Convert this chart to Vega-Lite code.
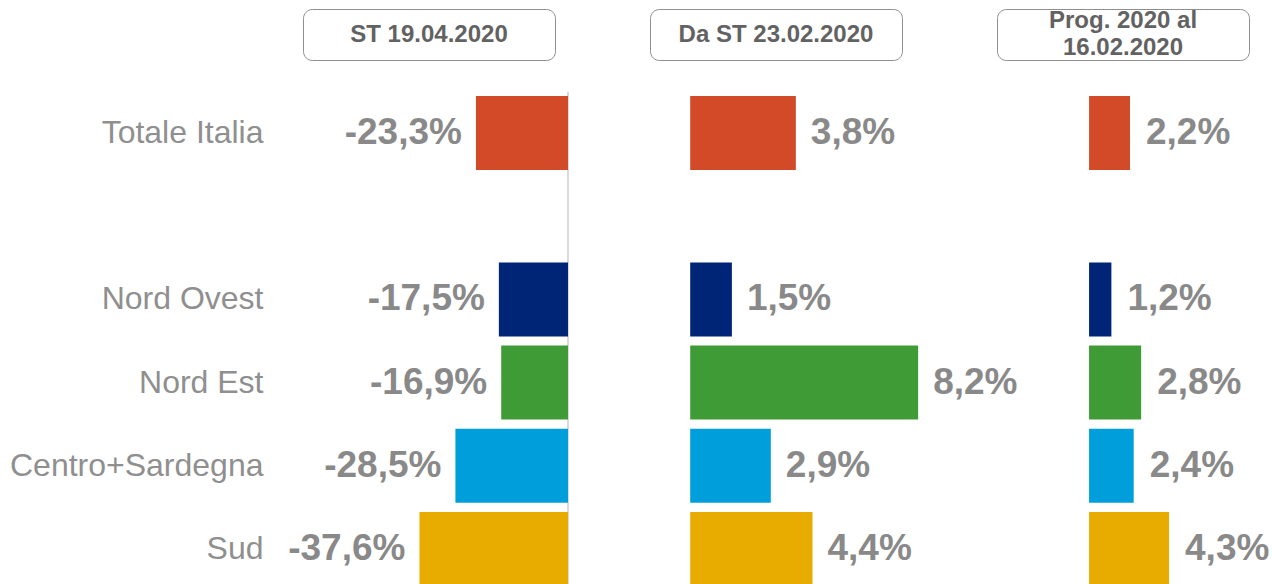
{
  "$schema": "https://vega.github.io/schema/vega-lite/v6.json",
  "padding": {"left": 9, "top": 8, "right": 0, "bottom": 0},
  "autosize": {"type": "pad"},
  "background": "white",
  "config": {
    "view": {"stroke": null},
    "font": "Liberation Sans",
    "locale": {"number": {"decimal": ",", "thousands": ".", "grouping": [3], "currency": ["€", ""], "minus": "-", "percent": "%"}}
  },
  "datasets": {
    "d": [
      {"regione": "Totale Italia", "st": -0.233, "da": 0.038, "prog": 0.022},
      {"regione": "Nord Ovest", "st": -0.175, "da": 0.015, "prog": 0.012},
      {"regione": "Nord Est", "st": -0.169, "da": 0.082, "prog": 0.028},
      {"regione": "Centro+Sardegna", "st": -0.285, "da": 0.029, "prog": 0.024},
      {"regione": "Sud", "st": -0.376, "da": 0.044, "prog": 0.043}
    ],
    "h1": [{"t": "ST 19.04.2020"}],
    "h2": [{"t": "Da ST 23.02.2020"}],
    "h3": [{"t": ["Prog. 2020 al", "16.02.2020"]}]
  },
  "spacing": 30,
  "vconcat": [
    {
      "spacing": 0,
      "hconcat": [
        {"width": 22, "height": 51, "data": {"name": "h1"}, "mark": {"type": "text", "text": ""}, "encoding": {}},
        {"width": 252, "height": 51, "view": {"stroke": "#8f8f8f", "strokeWidth": 1, "cornerRadius": 9},
         "data": {"name": "h1"}, "mark": {"type": "text", "fontSize": 24, "fontWeight": "bold", "color": "#626262"},
         "encoding": {"text": {"field": "t"}}},
        {"width": 93, "height": 51, "data": {"name": "h1"}, "mark": {"type": "text", "text": ""}, "encoding": {}},
        {"width": 252, "height": 51, "view": {"stroke": "#8f8f8f", "strokeWidth": 1, "cornerRadius": 9},
         "data": {"name": "h2"}, "mark": {"type": "text", "fontSize": 24, "fontWeight": "bold", "color": "#626262"},
         "encoding": {"text": {"field": "t"}}},
        {"width": 93, "height": 51, "data": {"name": "h1"}, "mark": {"type": "text", "text": ""}, "encoding": {}},
        {"width": 252, "height": 51, "view": {"stroke": "#8f8f8f", "strokeWidth": 1, "cornerRadius": 9},
         "data": {"name": "h3"}, "mark": {"type": "text", "fontSize": 24, "fontWeight": "bold", "color": "#626262", "lineHeight": 27, "dy": -14},
         "encoding": {"text": {"field": "t"}}}
      ]
    },
    {
      "spacing": 0,
      "hconcat": [
        {
          "width": 288, "height": 494,
          "data": {"name": "d"},
          "encoding": {
            "y": {"field": "regione", "type": "nominal",
                  "scale": {"domain": ["Totale Italia", " ", "Nord Ovest", "Nord Est", "Centro+Sardegna", "Sud"], "paddingInner": 0.11, "paddingOuter": 0.024, "align": 1},
                  "axis": {"title": null, "ticks": false, "domain": false, "labelFontSize": 32, "labelColor": "#8f8f8f", "labelPadding": 17, "labelLimit": 400, "labelFont": "Liberation Sans"}}
          },
          "layer": [
            {"mark": {"type": "rule", "color": "#d9d9d9", "strokeWidth": 1.5}, "encoding": {"x": {"datum": 0, "type": "quantitative", "scale": {"domain": [-0.729, 0], "nice": false}, "axis": null}, "y": null}},
            {"mark": {"type": "bar"},
             "encoding": {
               "x": {"field": "st", "type": "quantitative", "scale": {"domain": [-0.729, 0], "nice": false}, "axis": null},
               "color": {"field": "regione", "type": "nominal", "legend": null,
                         "scale": {"domain": ["Totale Italia", "Nord Ovest", "Nord Est", "Centro+Sardegna", "Sud"], "range": ["#D24A27", "#002576", "#3F9B35", "#009FDB", "#E8AB00"]}}
             }},
            {"mark": {"type": "text", "align": "right", "baseline": "middle", "dx": -14, "fontSize": 37, "fontWeight": "bold", "color": "#898989"},
             "encoding": {
               "x": {"field": "st", "type": "quantitative", "scale": {"domain": [-0.729, 0], "nice": false}, "axis": null},
               "text": {"field": "st", "type": "quantitative", "format": ".1%"}
             }}
          ]
        },
        {
          "width": 452, "height": 494,
          "data": {"name": "d"},
          "encoding": {
            "y": {"field": "regione", "type": "nominal",
                  "scale": {"domain": ["Totale Italia", " ", "Nord Ovest", "Nord Est", "Centro+Sardegna", "Sud"], "paddingInner": 0.11, "paddingOuter": 0.024, "align": 1},
                  "axis": null},
            "x": {"field": "da", "type": "quantitative", "scale": {"domain": [-0.0436, 0.119], "nice": false}, "axis": null}
          },
          "layer": [
            {"mark": {"type": "bar"},
             "encoding": {
               "color": {"field": "regione", "type": "nominal", "legend": null,
                         "scale": {"domain": ["Totale Italia", "Nord Ovest", "Nord Est", "Centro+Sardegna", "Sud"], "range": ["#D24A27", "#002576", "#3F9B35", "#009FDB", "#E8AB00"]}}
             }},
            {"mark": {"type": "text", "align": "left", "baseline": "middle", "dx": 15, "fontSize": 37, "fontWeight": "bold", "color": "#898989"},
             "encoding": {"text": {"field": "da", "type": "quantitative", "format": ".1%"}}}
          ]
        },
        {
          "width": 252, "height": 494,
          "data": {"name": "d"},
          "encoding": {
            "y": {"field": "regione", "type": "nominal",
                  "scale": {"domain": ["Totale Italia", " ", "Nord Ovest", "Nord Est", "Centro+Sardegna", "Sud"], "paddingInner": 0.11, "paddingOuter": 0.024, "align": 1},
                  "axis": null},
            "x": {"field": "prog", "type": "quantitative", "scale": {"domain": [-0.0366, 0.0989], "nice": false}, "axis": null}
          },
          "layer": [
            {"mark": {"type": "bar"},
             "encoding": {
               "color": {"field": "regione", "type": "nominal", "legend": null,
                         "scale": {"domain": ["Totale Italia", "Nord Ovest", "Nord Est", "Centro+Sardegna", "Sud"], "range": ["#D24A27", "#002576", "#3F9B35", "#009FDB", "#E8AB00"]}}
             }},
            {"mark": {"type": "text", "align": "left", "baseline": "middle", "dx": 16, "fontSize": 37, "fontWeight": "bold", "color": "#898989"},
             "encoding": {"text": {"field": "prog", "type": "quantitative", "format": ".1%"}}}
          ]
        }
      ]
    }
  ]
}
